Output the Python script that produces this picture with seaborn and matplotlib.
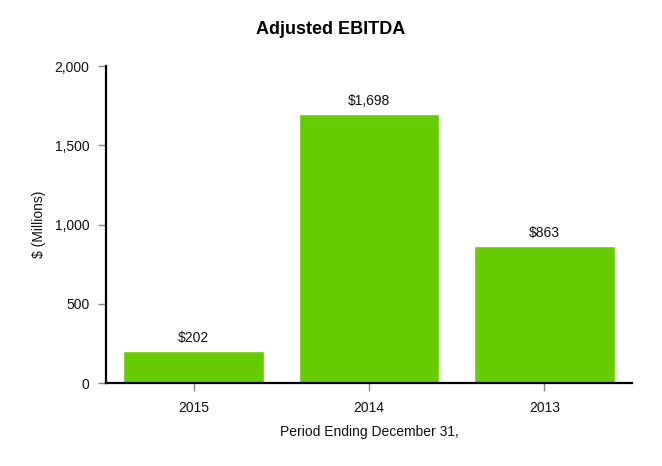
import seaborn as sns
import matplotlib.pyplot as plt
import pandas as pd

years = ['2015', '2014', '2013']
ebitda = [202, 1698, 863]
labels = ['$202', '$1,698', '$863']

df = pd.DataFrame({'year': years, 'ebitda': ebitda})

sns.set_style('white')
plt.rcParams['font.family'] = ['Liberation Sans', 'DejaVu Sans']

fig = plt.figure(figsize=(6.62, 4.66), dpi=100)
ax = fig.add_axes([0.160, 0.178, 0.795, 0.680])

sns.barplot(data=df, x='year', y='ebitda', color='#66CC00', saturation=1,
            width=0.8, ax=ax)

for i, v in enumerate(ebitda):
    ax.text(i, v + 40, labels[i], ha='center', va='bottom', fontsize=10, color='#111111')

ax.set_ylim(0, 2000)
ax.set_xlim(-0.5, 2.5)
ax.set_yticks([0, 500, 1000, 1500, 2000])
ax.set_yticklabels(['0', '500', '1,000', '1,500', '2,000'])
ax.tick_params(axis='both', direction='out', length=6, width=1, color='#888888',
               labelsize=10, labelcolor='#111111', bottom=True, left=True, pad=6)
ax.tick_params(axis='x', pad=7)

sns.despine(ax=ax)
for s in ['left', 'bottom']:
    ax.spines[s].set_color('black')
    ax.spines[s].set_linewidth(1.6)

ax.set_xlabel('Period Ending December 31,', fontsize=10, color='#111111', labelpad=7)
ax.set_ylabel('$ (Millions)', fontsize=10, color='#111111', labelpad=6)
fig.suptitle('Adjusted EBITDA', fontsize=13, fontweight='bold', color='black', y=0.955)

fig.savefig('out.png', dpi=100)
